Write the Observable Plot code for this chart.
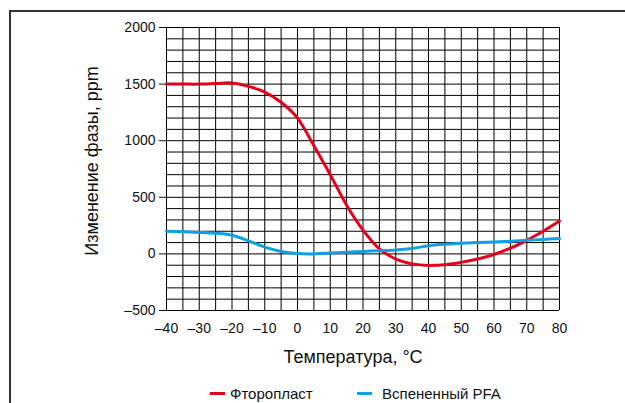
<!DOCTYPE html>
<html>
<head>
<meta charset="utf-8">
<script src="https://cdn.jsdelivr.net/npm/d3@7"></script>
<script src="https://cdn.jsdelivr.net/npm/@observablehq/plot@0.6"></script>
<style>
  html, body { margin: 0; padding: 0; background: #fff; }
  body { width: 625px; height: 403px; position: relative; overflow: hidden; font-family: "Liberation Sans", Arial, sans-serif; }
  #frame { position: absolute; left: 9px; top: 10px; width: 640px; height: 420px; border-left: 2px solid #333; border-top: 2px solid #333; box-sizing: border-box; }
  #chart { position: absolute; left: 0; top: 0; }
  #legend { position: absolute; left: 0; top: 383px; width: 625px; font-size: 15px; color: #111; }
  .item { position: absolute; top: 0; display: flex; align-items: center; height: 20px; }
  .sw { width: 15px; height: 3px; margin-right: 5px; }
</style>
</head>
<body>
<div id="frame"></div>
<div id="chart"></div>
<div id="legend"></div>
<script>
const temps = [-40,-35,-30,-25,-20,-15,-10,-5,0,5,10,15,20,25,30,35,40,45,50,55,60,65,70,75,80];
const fluoroplast = [1500,1500,1500,1505,1510,1480,1430,1340,1200,955,700,430,210,45,-45,-88,-102,-95,-75,-45,-5,50,120,200,290];
const foamedPFA = [200,195,190,182,165,115,60,22,3,0,8,15,22,28,35,48,72,85,93,100,105,112,120,128,135];
const seriesNames = ["Фторопласт", "Вспененный PFA"];
const seriesColors = ["#e3001b", "#109fe0"];
const xTicks = [-40,-30,-20,-10,0,10,20,30,40,50,60,70,80];
const yTicks = [-500,0,500,1000,1500,2000];
const xGrid = d3.range(-40, 81, 5);
const yGrid = d3.range(-500, 2001, 100);
const xTitle = "Температура, °C";
const yTitle = "Изменение фазы, ppm";

const data = [];
temps.forEach((t, i) => {
  data.push({t, v: fluoroplast[i], s: seriesNames[0]});
  data.push({t, v: foamedPFA[i], s: seriesNames[1]});
});

const fmt = d => d < 0 ? "–" + Math.abs(d) : String(d);

const chart = Plot.plot({
  width: 625,
  height: 375,
  marginLeft: 166,
  marginRight: 66,
  marginTop: 27,
  marginBottom: 65,
  style: {fontFamily: "'Liberation Sans', Arial, sans-serif", fontSize: "14px", color: "#111", background: "transparent"},
  x: {domain: [-40, 80]},
  y: {domain: [-500, 2000]},
  color: {domain: seriesNames, range: seriesColors},
  marks: [
    Plot.ruleX(xGrid, {stroke: "#000", strokeWidth: 1}),
    Plot.ruleY(yGrid, {stroke: "#000", strokeWidth: 1}),
    Plot.axisY({ticks: yTicks, tickSize: 7, tickPadding: 4, tickFormat: fmt, label: null, fontSize: 14}),
    Plot.axisX({ticks: xTicks, tickSize: 0, tickPadding: 13, tickFormat: fmt, label: null, fontSize: 14}),
    Plot.text([xTitle], {text: d => d, frameAnchor: "bottom", textAnchor: "middle", dy: 52, dx: -10, fontSize: 18, fill: "#111"}),
    Plot.text([yTitle], {text: d => d, frameAnchor: "left", textAnchor: "middle", rotate: -90, dx: -74, dy: -8, fontSize: 18, fill: "#111"}),
    Plot.line(data, {x: "t", y: "v", stroke: "s", z: "s", strokeWidth: 3, curve: "catmull-rom"})
  ]
});
document.getElementById("chart").appendChild(chart);

const legend = document.getElementById("legend");
const lefts = [210, 357];
seriesNames.forEach((name, i) => {
  const item = document.createElement("div");
  item.className = "item";
  item.style.left = lefts[i] + "px";
  const sw = document.createElement("span");
  sw.className = "sw";
  sw.style.background = seriesColors[i];
  if (i === 1) sw.style.marginRight = "10px";
  const label = document.createElement("span");
  label.textContent = name;
  item.appendChild(sw);
  item.appendChild(label);
  legend.appendChild(item);
});
</script>
</body>
</html>
